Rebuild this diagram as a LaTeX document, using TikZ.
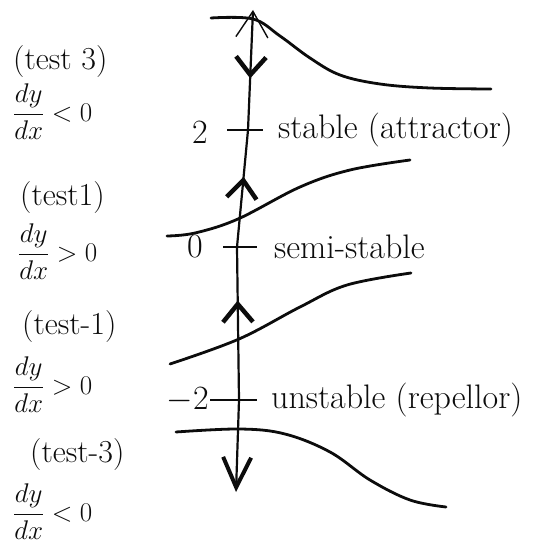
\RequirePackage{fix-cm}
\documentclass[tikz,border=0pt]{standalone}
\usepackage{fontspec}
\usetikzlibrary{arrows.meta, positioning, decorations.markings}
\definecolor{ink}{RGB}{12, 12, 12}

\begin{document}
\begin{tikzpicture}[
            x=1pt, y=-1pt,
            lbl/.style={text=ink, font=\fontsize{34}{38}\selectfont, inner sep=0pt},
            testlbl/.style={text=ink, font=\fontsize{32}{36}\selectfont, inner sep=0pt, anchor=west},
            signlbl/.style={text=ink, font=\fontsize{27}{32}\selectfont, inner sep=0pt, anchor=west},
            phase/.style={draw=ink, line width=2.2pt},
            sol/.style={draw=ink, line width=2.8pt, line cap=round},
            tickmark/.style={draw=ink, line width=2.6pt},
            chev/.tip={Straight Barb[length=18pt, width=30pt, line width=4.5pt]},
            flowdown/.style={postaction={decorate}, decoration={markings, mark=at position #1 with {\arrow{chev}}}},
            flowup/.style={postaction={decorate}, decoration={markings, mark=at position #1 with {\arrowreversed{chev}}}}
        ]
            \useasboundingbox (0,0) rectangle (544,548);

            % phase line
            \coordinate (top) at (253,10);
            \coordinate (p2) at (248,130);
            \coordinate (p0) at (237,247);
            \coordinate (pm2) at (239,400);
            \coordinate (bot) at (236,492);

            \draw[phase, {Straight Barb[length=26pt, width=32pt, line width=1.4pt]}-, flowdown=0.57] (top) -- (p2);
            \draw[phase, flowup=0.4] (p2) -- (p0);
            \draw[phase, flowup=0.35] (p0) -- (pm2);
            \draw[phase, -{Straight Barb[length=30pt, width=28pt, line width=4pt]}] (pm2) -- (bot);

            \draw[tickmark] ([xshift=-21pt]p2) -- ([xshift=15pt]p2);
            \draw[tickmark] ([xshift=-14pt]p0) -- ([xshift=20pt]p0);
            \draw[tickmark] ([xshift=-29pt]pm2) -- ([xshift=18pt]pm2);

            \node[lbl, left=40pt of p2, yshift=-2pt] (val2) {2};
            \node[lbl, right=30pt of p2] (st2) {stable (attractor)};
            \node[lbl, left=34pt of p0] (val0) {0};
            \node[lbl, right=37pt of p0] (st0) {semi-stable};
            \node[lbl, left=30pt of pm2] (valm2) {$-2$};
            \node[lbl, right=32pt of pm2] (stm2) {unstable (repellor)};

            % solution curves
            \draw[sol] plot[smooth, tension=0.6] coordinates {(211,18) (253,19) (280,36) (310,58) (340,75) (380,84) (430,88) (491,89)};
            \draw[sol] plot[smooth, tension=0.6] coordinates {(167,236) (195,233) (238,219) (300,187) (350,170) (410,160)};
            \draw[sol] plot[smooth, tension=0.6] coordinates {(170,364) (239,339) (300,307) (347,285) (411,273)};
            \draw[sol] plot[smooth, tension=0.6] coordinates {(176,432) (240,429) (285,434) (330,452) (370,480) (410,500) (446,507)};

            % test points
            \node[testlbl] (test3) at (13,62) {(test 3)};
            \node[signlbl] (sign3) at (13,112) {$\displaystyle\frac{dy}{dx}<0$};
            \node[testlbl] (test1) at (20,198) {(test1)};
            \node[signlbl] (sign1) at (18,252) {$\displaystyle\frac{dy}{dx}>0$};
            \node[testlbl] (testm1) at (22,327) {(test-1)};
            \node[signlbl] (signm1) at (13,385) {$\displaystyle\frac{dy}{dx}>0$};
            \node[testlbl] (testm3) at (30,455) {(test-3)};
            \node[signlbl] (signm3) at (13,512) {$\displaystyle\frac{dy}{dx}<0$};
        \end{tikzpicture}
\end{document}
